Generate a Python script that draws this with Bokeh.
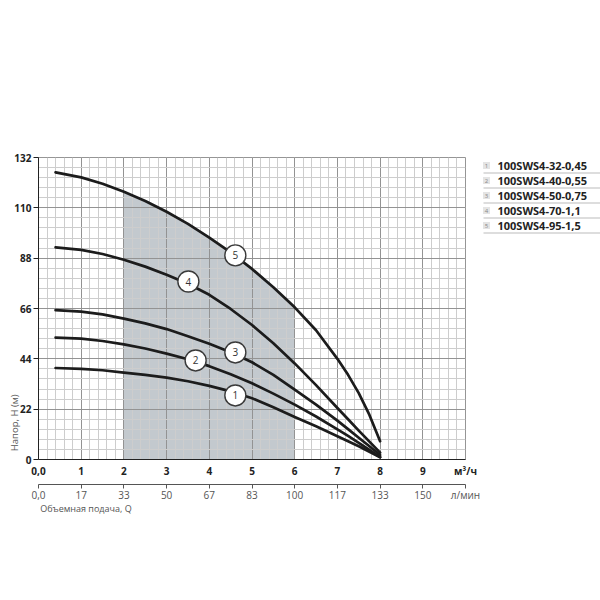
import numpy as np
from bokeh.plotting import figure
from bokeh.models import FixedTicker, LinearAxis, Range1d
from bokeh.layouts import row
from bokeh.embed import file_html
from bokeh.resources import INLINE
from bokeh.core.properties import value

# ---- data ----
q = [0.4, 1, 1.5, 2, 2.5, 3, 3.5, 4, 4.5, 5, 5.5, 6, 6.5, 7, 7.25, 7.5, 7.75, 8]
h1 = [40.0, 39.6, 39.0, 38.0, 37.0, 35.8, 34.2, 32.2, 29.8, 26.8, 22.8, 18.6, 14.5, 10.2, 8.0, 5.8, 3.4, 1.0]
h2 = [53.3, 52.8, 51.8, 50.3, 48.5, 46.3, 43.8, 40.8, 37.3, 33.3, 28.8, 24.0, 18.8, 13.2, 10.3, 7.3, 4.2, 1.0]
h3 = [65.3, 64.6, 63.4, 61.6, 59.5, 57.0, 53.9, 50.6, 46.9, 42.5, 37.0, 30.5, 24.0, 17.0, 13.3, 9.5, 5.8, 2.0]
h4 = [92.7, 91.6, 89.8, 87.3, 84.3, 80.8, 76.8, 72.0, 65.8, 58.8, 50.8, 42.0, 32.5, 22.5, 17.6, 12.6, 7.8, 3.0]
h5 = [125.5, 123.3, 120.5, 117.0, 113.0, 108.3, 103.0, 97.0, 90.5, 83.3, 75.3, 66.5, 56.5, 44.0, 37.0, 29.0, 19.5, 8.0]
curves = [h1, h2, h3, h4, h5]

model_names = ["100SWS4-32-0,45", "100SWS4-40-0,55", "100SWS4-50-0,75",
               "100SWS4-70-1,1", "100SWS4-95-1,5"]
curve_ids = ["1", "2", "3", "4", "5"]
marker_q = [4.61, 3.68, 4.61, 3.51, 4.61]
marker_h = [28.0, 43.3, 46.8, 77.8, 89.2]

work_range = (2, 6)

y_ticks = [0, 22, 44, 66, 88, 110, 132]
x_ticks = [0, 1, 2, 3, 4, 5, 6, 7, 8, 9, 10]
x_tick_labels = ["0,0", "1", "2", "3", "4", "5", "6", "7", "8", "9", "м³/ч"]
lmin_labels = ["0,0", "17", "33", "50", "67", "83", "100", "117", "133", "150", "л/мин"]
x_title = "Объемная подача, Q"
y_title = "Напор, H (м)"

FONT = "Open Sans"

# ---- main figure ----
p = figure(width=480, height=570, x_range=Range1d(0, 10), y_range=Range1d(0, 132),
           output_backend="svg", toolbar_location=None,
           min_border_left=38, min_border_right=15, min_border_top=157, min_border_bottom=111,
           outline_line_color="#959595")

# grids
p.xgrid.ticker = FixedTicker(ticks=list(range(0, 11)),
                             minor_ticks=list(np.round(np.arange(0, 10.01, 0.2), 2)))
p.ygrid.ticker = FixedTicker(ticks=y_ticks,
                             minor_ticks=list(np.round(np.arange(0, 132.1, 4.4), 2)))
for g in (p.xgrid, p.ygrid):
    g.grid_line_color = "#939393"
    g.grid_line_width = 1
    g.minor_grid_line_color = "#cdcdcd"
    g.minor_grid_line_width = 1

# shaded working range under curve 5
sel = [i for i, x in enumerate(q) if work_range[0] <= x <= work_range[1]]
p.varea(x=[q[i] for i in sel], y1=[0] * len(sel), y2=[h5[i] for i in sel],
        fill_color="#c3c9ce", level="image")

for h in curves:
    p.line(q, h, line_width=2.7, line_color="#1c1c1c", line_cap="round", line_join="round")

p.scatter(marker_q, marker_h, size=21, fill_color="white", line_color="#3a3a3a", line_width=1.4)
p.text(marker_q, marker_h, text=curve_ids, text_align="center", text_baseline="middle",
       text_font=value(FONT), text_font_size="10px", text_color="#333333")

# y axis
ya = p.yaxis[0]
ya.ticker = FixedTicker(ticks=y_ticks)
ya.minor_tick_line_color = None
ya.major_tick_out = 5
ya.major_tick_in = 0
ya.axis_line_color = "#222222"
ya.major_tick_line_color = "#222222"
ya.major_label_text_font = FONT
ya.major_label_text_font_style = "bold"
ya.major_label_text_font_size = "10px"
ya.major_label_text_color = "#222222"
ya.major_label_standoff = 2

# y title as a label-only axis pulled next to the tick labels
yt_pos = 16.0
ya2 = LinearAxis(ticker=FixedTicker(ticks=[yt_pos]), major_label_overrides={yt_pos: y_title})
ya2.axis_line_color = None
ya2.major_tick_line_color = None
ya2.minor_tick_line_color = None
ya2.major_tick_out = 0
ya2.major_label_orientation = "vertical"
ya2.major_label_text_font = FONT
ya2.major_label_text_font_size = "9.5px"
ya2.major_label_text_color = "#555555"
ya2.major_label_standoff = -10
p.add_layout(ya2, "left")

# main x axis (m3/h)
xa = p.xaxis[0]
xa.ticker = FixedTicker(ticks=x_ticks)
xa.major_label_overrides = dict(zip(x_ticks, x_tick_labels))
xa.minor_tick_line_color = None
xa.major_tick_out = 0
xa.major_tick_in = 0
xa.axis_line_color = "#222222"
xa.major_label_text_font = FONT
xa.major_label_text_font_style = "bold"
xa.major_label_text_font_size = "10px"
xa.major_label_text_color = "#222222"
xa.major_label_standoff = 4
xa.axis_label = " "
xa.axis_label_text_font_size = "1px"
xa.axis_label_standoff = 0

# secondary x axis (l/min)
xa2 = LinearAxis(ticker=FixedTicker(ticks=x_ticks),
                 major_label_overrides=dict(zip(x_ticks, lmin_labels)))
xa2.minor_tick_line_color = None
xa2.major_tick_out = 4
xa2.major_tick_in = 0
xa2.axis_line_color = "#555555"
xa2.major_tick_line_color = "#555555"
xa2.major_label_text_font = FONT
xa2.major_label_text_font_size = "10px"
xa2.major_label_text_color = "#555555"
xa2.major_label_standoff = -1
p.add_layout(xa2, "below")

# x title as a label-only axis under the l/min axis
xt_pos = 1.11
xa3 = LinearAxis(ticker=FixedTicker(ticks=[xt_pos]), major_label_overrides={xt_pos: x_title})
xa3.axis_line_color = None
xa3.major_tick_line_color = None
xa3.minor_tick_line_color = None
xa3.major_tick_out = 0
xa3.major_label_text_font = FONT
xa3.major_label_text_font_size = "9px"
xa3.major_label_text_color = "#555555"
xa3.major_label_standoff = -3
p.add_layout(xa3, "below")

# ---- legend figure (frame aligned with the main frame: page y 157..459) ----
lf = figure(width=120, height=570, x_range=Range1d(0, 120), y_range=Range1d(459, 157),
            output_backend="svg", toolbar_location=None, min_border=0,
            x_axis_location=None, y_axis_location=None, outline_line_color=None)
lf.grid.visible = False
row_y = [165 + 15 * i for i in range(len(model_names))]
lf.rect(x=[6] * len(row_y), y=row_y, width=7, height=7, fill_color="#e4e4e4", line_color=None)
lf.text(x=[6] * len(row_y), y=row_y, text=curve_ids, text_align="center", text_baseline="middle",
        text_font=value(FONT), text_font_size="6px", text_color="#888888")
lf.text(x=[17] * len(row_y), y=row_y, text=model_names, text_align="left", text_baseline="middle",
        text_font=value(FONT), text_font_size="11px", text_font_style="bold", text_color="#222222")
lf.segment(x0=[3] * len(row_y), y0=[y + 7.5 for y in row_y], x1=[120] * len(row_y),
           y1=[y + 7.5 for y in row_y], line_color="#bbbbbb", line_width=1)

layout = row(p, lf)
open("out.html", "w").write(file_html(layout, INLINE))
